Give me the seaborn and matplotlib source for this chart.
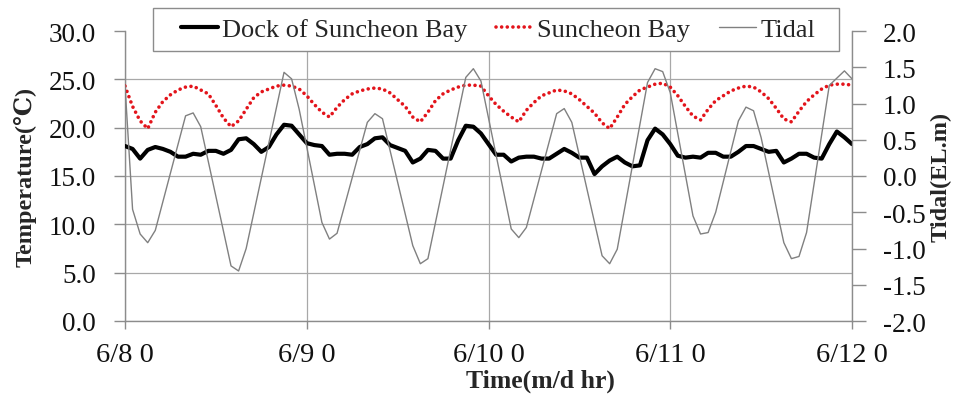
import numpy as np
import pandas as pd
import matplotlib
matplotlib.use("Agg")
import matplotlib.pyplot as plt
from matplotlib.ticker import FormatStrFormatter
from matplotlib.lines import Line2D
from matplotlib.patches import Rectangle
import seaborn as sns

# ---------------- data ----------------
hours = list(range(97))

dock = [18.1, 17.8, 16.8, 17.7, 18.0, 17.8, 17.5, 17.0, 17.0, 17.3,
        17.2, 17.6, 17.6, 17.3, 17.7, 18.8, 18.9, 18.3, 17.5, 18.0,
        19.3, 20.3, 20.2, 19.3, 18.4, 18.2, 18.1, 17.2, 17.3, 17.3,
        17.2, 18.0, 18.3, 18.9, 19.0, 18.2, 17.9, 17.6, 16.4, 16.8,
        17.7, 17.6, 16.8, 16.8, 18.7, 20.2, 20.1, 19.4, 18.3, 17.2,
        17.2, 16.5, 16.9, 17.0, 17.0, 16.8, 16.8, 17.3, 17.8, 17.4,
        16.9, 16.9, 15.2, 16.0, 16.6, 17.0, 16.4, 16.0, 16.1, 18.7,
        19.9, 19.3, 18.3, 17.1, 16.9, 17.0, 16.9, 17.4, 17.4, 17.0,
        17.0, 17.5, 18.1, 18.1, 17.8, 17.5, 17.6, 16.4, 16.8, 17.3,
        17.3, 16.9, 16.8, 18.3, 19.6, 19.0, 18.3]

bay = [24.3, 22.2, 20.7, 19.9, 21.6, 22.7, 23.4, 23.9, 24.2, 24.3,
       23.9, 23.5, 22.3, 21.0, 20.1, 20.7, 21.9, 23.1, 23.7, 24.0,
       24.3, 24.4, 24.3, 24.0, 23.3, 22.4, 21.6, 21.1, 22.1, 22.9,
       23.5, 23.8, 24.0, 24.1, 24.0, 23.6, 22.9, 22.2, 21.1, 20.6,
       21.6, 22.8, 23.5, 23.9, 24.2, 24.4, 24.4, 24.3, 23.3, 22.4,
       21.7, 21.1, 20.6, 21.8, 22.6, 23.3, 23.6, 23.9, 23.8, 23.5,
       22.9, 22.2, 21.5, 20.5, 19.9, 21.1, 22.4, 23.2, 23.9, 24.2,
       24.5, 24.6, 24.2, 23.3, 22.2, 21.2, 20.8, 21.9, 22.8, 23.3,
       23.8, 24.1, 24.3, 24.2, 23.7, 23.0, 22.0, 20.9, 20.6, 21.7,
       22.7, 23.4, 24.0, 24.4, 24.5, 24.5, 24.4]

tidal_hours = [0, 1, 2, 3, 4, 8, 9, 10, 14, 15, 16, 21, 22, 23,
               26, 27, 28, 32, 33, 34, 38, 39, 40, 45, 46, 47,
               51, 52, 53, 57, 58, 59, 63, 64, 65, 69, 70, 71, 72,
               75, 76, 77, 78, 81, 82, 83, 84, 87, 88, 89, 90, 93, 95, 96]
tidal_values = [1.25, -0.46, -0.80, -0.92, -0.75, 0.83, 0.87, 0.68, -1.24, -1.31, -1.00, 1.43, 1.34, 0.92,
                -0.64, -0.87, -0.79, 0.74, 0.86, 0.79, -0.96, -1.21, -1.14, 1.36, 1.48, 1.31,
                -0.73, -0.85, -0.71, 0.86, 0.93, 0.74, -1.10, -1.21, -1.01, 1.29, 1.48, 1.44, 1.15,
                -0.55, -0.80, -0.78, -0.50, 0.76, 0.95, 0.90, 0.53, -0.92, -1.14, -1.11, -0.78, 1.25, 1.45, 1.34]

x_tick_pos = [0, 24, 48, 72, 96]
x_tick_labels = ["6/8 0", "6/9 0", "6/10 0", "6/11 0", "6/12 0"]
temp_ticks = [0, 5, 10, 15, 20, 25, 30]
tidal_ticks = [-2.0, -1.5, -1.0, -0.5, 0.0, 0.5, 1.0, 1.5, 2.0]

series_names = ["Dock of Suncheon Bay", "Suncheon Bay", "Tidal"]

# ---------------- style ----------------
sns.set_theme(style="white")
plt.rcParams["font.family"] = ["Liberation Serif", "DejaVu Serif"]
plt.rcParams["axes.unicode_minus"] = False

W, H = 961, 402
fig = plt.figure(figsize=(W / 100, H / 100), dpi=100)
L, R, B, T = 125, 852, 322, 32
ax = fig.add_axes([L / W, 1 - B / H, (R - L) / W, (B - T) / H])
ax2 = ax.twinx()

df = pd.DataFrame({"hour": hours, "dock": dock, "bay": bay})
dft = pd.DataFrame({"hour": tidal_hours, "tidal": tidal_values})

red = "#e3141b"
sns.lineplot(data=df, x="hour", y="dock", ax=ax, color="black", linewidth=3.0,
             legend=False, zorder=4)
sns.lineplot(data=df, x="hour", y="bay", ax=ax, color=red, linewidth=2.6,
             legend=False, zorder=3)
bay_line = ax.lines[-1]
bay_line.set_linestyle((0, (0.01, 1.55)))
bay_line.set_dash_capstyle("round")
sns.lineplot(data=dft, x="hour", y="tidal", ax=ax2, color="#808080", linewidth=1.0,
             legend=False)

# axes ranges & ticks
ax.set_xlim(0, 96)
ax.set_ylim(0, 30)
ax2.set_ylim(-2, 2)
ax.set_xticks(x_tick_pos)
ax.set_xticklabels(x_tick_labels)
ax.set_yticks(temp_ticks)
ax2.set_yticks(tidal_ticks)
ax.yaxis.set_major_formatter(FormatStrFormatter("%.1f"))
ax2.yaxis.set_major_formatter(FormatStrFormatter("%.1f"))

spine_c = "#8c8c8c"
for a in (ax, ax2):
    a.spines["top"].set_visible(False)
    for s in a.spines.values():
        s.set_color(spine_c)
        s.set_linewidth(1.0)
ax.spines["right"].set_visible(False)
ax2.spines["left"].set_visible(False)
ax2.spines["bottom"].set_visible(False)

ax.grid(True, axis="both", color="#a8a8a8", linewidth=0.9)
ax2.grid(False)
ax.set_axisbelow(True)
ax.yaxis.get_gridlines()[-1].set_visible(False)

ax.tick_params(axis="y", left=True, direction="out", length=8, width=1,
               color=spine_c, pad=13, labelsize=19.5, labelcolor="#111111")
ax.tick_params(axis="x", bottom=True, direction="out", length=6, width=1,
               color=spine_c, pad=9, labelsize=20.5, labelcolor="#111111")
ax2.tick_params(axis="y", right=True, direction="out", length=10, width=1,
                color=spine_c, pad=12, labelsize=19.5, labelcolor="#111111")

ax.set_xlabel("Time(m/d hr)", fontsize=18.5, fontweight="bold")
ax.set_ylabel("Temperature(℃)", fontsize=17.5, fontweight="bold")
ax2.set_ylabel("Tidal(EL.m)", fontsize=17.5, fontweight="bold", rotation=90)
ax.xaxis.set_label_coords(0.571, -0.165)
ax.yaxis.set_label_coords(-0.121, 0.5)
ax2.yaxis.set_label_coords(1.108, 0.5)

# legend box (frame drawn as a figure-coordinate rectangle, entries as a frameless legend)
box = Rectangle((153 / W, 1 - 52 / H), (839 - 153) / W, (52 - 9) / H,
                transform=fig.transFigure, facecolor="white", edgecolor=spine_c,
                linewidth=1.0, zorder=4.5, clip_on=False)
ax2.add_patch(box)

handles = [Line2D([], [], color="black", linewidth=3.0),
           Line2D([], [], color=red, linewidth=2.6,
                  linestyle=(0, (0.01, 1.55)), dash_capstyle="round"),
           Line2D([], [], color="#808080", linewidth=1.0)]
leg = ax2.legend(handles, series_names, loc="center",
                 bbox_to_anchor=((498 - L) / (R - L), (B - 30.5) / (B - T)),
                 ncol=3, frameon=False, fontsize=19, handlelength=1.4,
                 handletextpad=0.15, columnspacing=1.1, borderpad=0.2,
                 borderaxespad=0)
leg.set_zorder(6)

fig.savefig("out.png", dpi=100)
